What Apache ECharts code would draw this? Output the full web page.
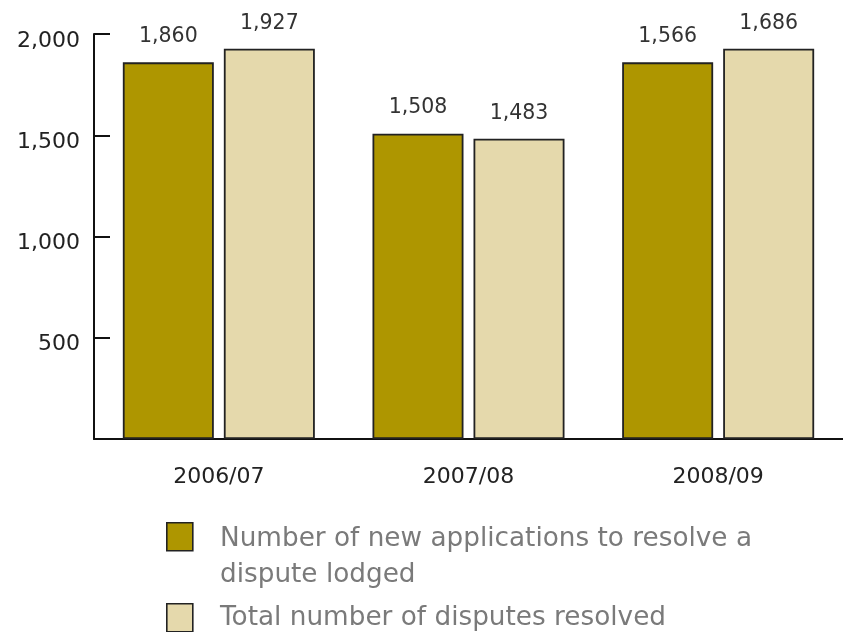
<!DOCTYPE html>
<html><head><meta charset="utf-8">
<script src="https://cdn.jsdelivr.net/npm/echarts@6/dist/echarts.min.js"></script>
<style>html,body{margin:0;padding:0;background:#fff}#c{width:843px;height:632px}</style>
</head><body><div id="c"></div>
<script>
const categories = ['2006/07', '2007/08', '2008/09'];
const seriesNames = ['Number of new applications to resolve a\ndispute lodged', 'Total number of disputes resolved'];
// bar heights as drawn in the picture
const lodged = [1860, 1508, 1860];
const resolved = [1927, 1483, 1927];
// value labels as printed in the picture
const lodgedLabels = ['1,860', '1,508', '1,566'];
const resolvedLabels = ['1,927', '1,483', '1,686'];
const yTicks = [0, 500, 1000, 1500, 2000];
const colors = ['#AE9600', '#E5D9AC'];

const chart = echarts.init(document.getElementById('c'));
const fmt = v => v.toLocaleString('en-US');
function barSeries(i, data, labels) {
  return {
    type: 'bar', name: seriesNames[i], data: data,
    barWidth: 91, barGap: '11%',
    itemStyle: { color: colors[i], borderColor: '#222', borderWidth: 1.8 },
    label: { show: true, position: 'top', distance: 15, color: '#333', fontSize: 20.5,
      fontFamily: 'DejaVu Sans', formatter: p => labels[p.dataIndex] }
  };
}
const legendGraphics = [];
const legendTops = [522, 603];
const legendTextTops = [521, 600];
seriesNames.forEach((n, i) => {
  legendGraphics.push({ type: 'rect', left: 166, top: legendTops[i], shape: { width: 26, height: 28 },
    style: { fill: colors[i], stroke: '#222', lineWidth: 1.6 } });
  legendGraphics.push({ type: 'text', left: 220, top: legendTextTops[i],
    style: { text: n, fill: '#7a7a7a', font: '26.3px "DejaVu Sans"', lineHeight: 36 } });
});
chart.setOption({
  animation: false,
  grid: { left: 94, right: -7, top: 34, bottom: 193, containLabel: false },
  xAxis: {
    type: 'category', data: categories,
    axisLine: { lineStyle: { color: '#111', width: 2 } },
    axisTick: { inside: true, length: 10, lineStyle: { color: '#111', width: 2 } },
    axisLabel: { color: '#222', fontSize: 22, margin: 27, fontFamily: 'DejaVu Sans' }
  },
  yAxis: {
    type: 'value', min: yTicks[0], max: yTicks[yTicks.length - 1], interval: 500,
    splitLine: { show: false },
    axisLine: { show: true, lineStyle: { color: '#111', width: 2 } },
    axisTick: { show: true, inside: true, length: 16, lineStyle: { color: '#111', width: 2 } },
    axisLabel: { color: '#222', fontSize: 22, margin: 14, fontFamily: 'DejaVu Sans',
      formatter: v => v === 0 ? '' : '{a|' + fmt(v) + '}',
      rich: { a: { fontSize: 22, fontFamily: 'DejaVu Sans', color: '#222', padding: [14, 0, 0, 0] } } }
  },
  series: [barSeries(0, lodged, lodgedLabels), barSeries(1, resolved, resolvedLabels)],
  graphic: legendGraphics
});
</script></body></html>
